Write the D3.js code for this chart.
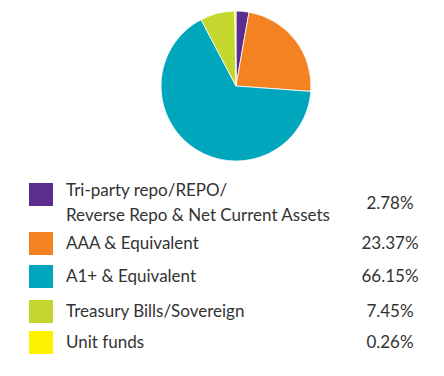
<!DOCTYPE html>
<html>
<head>
<meta charset="utf-8">
<script src="https://cdn.jsdelivr.net/npm/d3@7"></script>
<style>
body{margin:0;background:#fff;}
text{font-family:"Lato","Open Sans",sans-serif;fill:#333;}
</style>
</head>
<body>
<svg id="chart" width="444" height="376"></svg>
<script>
var labels = [["Tri-party repo/REPO/","Reverse Repo & Net Current Assets"],["AAA & Equivalent"],["A1+ & Equivalent"],["Treasury Bills/Sovereign"],["Unit funds"]];
var values = [2.78, 23.37, 66.15, 7.45, 0.26];
var colors = ["#5b2d8e", "#f58220", "#00a6bb", "#c3d72f", "#fff200"];

var svg = d3.select("#chart");
var cx = 236, cy = 86, r = 75;

var pie = d3.pie().sort(null).value(function(d){ return d; });
var arc = d3.arc().innerRadius(0).outerRadius(r);

var g = svg.append("g").attr("transform", "translate(" + cx + "," + cy + ")");
g.selectAll("path")
	.data(pie(values))
	.enter().append("path")
	.attr("d", arc)
	.attr("fill", function(d, i){ return colors[i]; })
	.attr("stroke", "#fff")
	.attr("stroke-width", 0.8);

// legend rows
var rowY = [183, 232, 265, 300, 331];
var leg = svg.append("g");
for(var i = 0; i<values.length; i++){
	var y = rowY[i];
	leg.append("rect")
		.attr("x", 29).attr("y", y)
		.attr("width", 24).attr("height", 23)
		.attr("fill", colors[i]);
	var lines = labels[i];
	var base = lines.length > 1 ? y + 13 : y + 17;
	for(var j = 0; j<lines.length; j++){
		leg.append("text")
			.attr("x", 66).attr("y", base + j*25)
			.attr("font-size", 17)
			.text(lines[j]);
	}
	leg.append("text")
		.attr("x", 390).attr("y", lines.length > 1 ? y + 26 : y + 17)
		.attr("text-anchor", "middle")
		.attr("font-size", 17)
		.text(values[i].toFixed(2) + "%");
}
</script>
</body>
</html>
